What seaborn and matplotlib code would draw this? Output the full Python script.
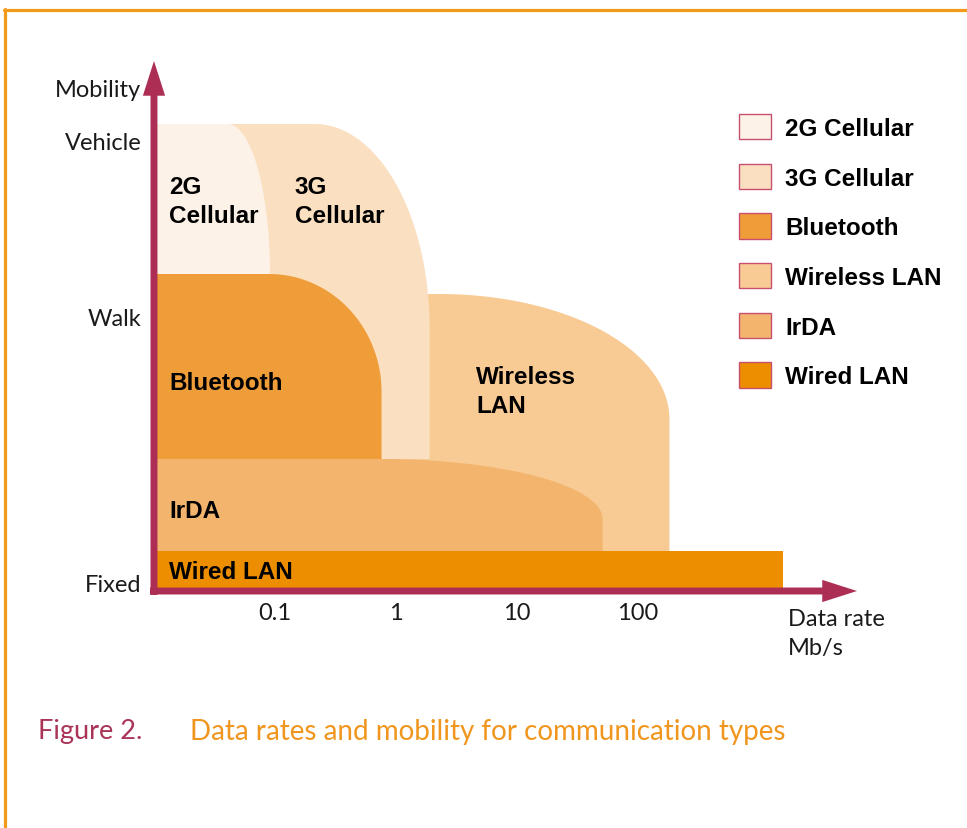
import numpy as np
import matplotlib
matplotlib.use("Agg")
import matplotlib.pyplot as plt
from matplotlib.patches import Polygon, Patch
from matplotlib.lines import Line2D
import seaborn as sns

# Technologies (legend order) and their coverage areas
techs = ["2G Cellular", "3G Cellular", "Bluetooth", "Wireless LAN", "IrDA", "Wired LAN"]
labels_in_plot = ["2G\nCellular", "3G\nCellular", "Bluetooth", "Wireless\nLAN", "IrDA", "Wired LAN"]
colors = ["#FDF2E7", "#FBDFC1", "#EF9D39", "#F8CA94", "#F3B46D", "#EC8E00"]

# max data rate in Mb/s reached by each technology (right edge)
rate_max = [0.091, 1.9, 0.76, 182, 51, 1585]
rate_min = 0.01
# mobility range (arbitrary scale: fixed=0 ... vehicle ~4.5)
mob_low = [3.17, 1.32, 1.32, 0.40, 0.40, 0.0]
mob_high = [4.67, 4.67, 3.17, 2.97, 1.32, 0.40]
# how rounded the top-right corner is (decades, mobility units)
corner_dx = [0.35, 0.95, 0.93, 1.9, 1.84, 0.0]
corner_dy = [1.5, 2.05, 1.18, 1.25, 0.6, 0.0]
draw_order = [3, 1, 0, 2, 4, 5]

mobility_ticks = [0.08, 2.74, 4.5]
mobility_labels = ["Fixed", "Walk", "Vehicle"]
rate_ticks = [0.1, 1, 10, 100]
rate_labels = ["0.1", "1", "10", "100"]

sns.set_style("white")
plt.rcParams["font.family"] = ["Lato", "DejaVu Sans"]

axis_col = "#AD2E55"
light = dict(family="Lato", weight="normal", size=17, color="#1a1a1a")
bold = dict(family="Liberation Sans", weight="bold", size=17.5, color="black")

fig = plt.figure(figsize=(9.67, 8.29), dpi=100)
W, H = 967, 829
ax_l, ax_r, ax_t, ax_b = 150, 860, 55, 600
ax = fig.add_axes([ax_l / W, (H - ax_b) / H, (ax_r - ax_l) / W, (ax_b - ax_t) / H])
ax.set_xscale("log")
ax.set_xlim(10 ** -2.033, 10 ** 3.835)
ax.set_ylim(-0.08, 5.37)


def region(x1, y0, y1, rx, ry):
    lx0, lx1 = np.log10(rate_min), np.log10(x1)
    pts = [(lx0, y0), (lx1, y0), (lx1, y1 - ry)]
    if rx > 0 and ry > 0:
        t = np.linspace(0, np.pi / 2, 60)
        cx, cy = lx1 - rx, y1 - ry
        pts += list(zip(cx + rx * np.cos(t), cy + ry * np.sin(t)))
    else:
        pts.append((lx1, y1))
    pts.append((lx0, y1))
    return [(10 ** a, b) for a, b in pts]


for i in draw_order:
    verts = region(rate_max[i], mob_low[i], mob_high[i], corner_dx[i], corner_dy[i])
    ax.add_patch(Polygon(verts, closed=True, facecolor=colors[i], edgecolor="none"))

# labels inside the areas
label_pos = [(0.0133, 3.90), (0.146, 3.90), (0.0133, 2.08), (4.58, 2.00), (0.0133, 0.81), (0.0133, 0.19)]
for txt, (x, y) in zip(labels_in_plot, label_pos):
    ax.text(x, y, txt, ha="left", va="center", linespacing=1.32, **bold)

# axes as arrows
arrow = dict(width=5, headwidth=16, headlength=25, shrink=0, color=axis_col, lw=0)
ax.annotate("", xy=(rate_min, 5.30), xytext=(rate_min, -0.04), arrowprops=arrow,
            annotation_clip=False)
ax.annotate("", xy=(10 ** 3.81, 0), xytext=(10 ** -2.033, 0), arrowprops=arrow,
            annotation_clip=False)

ax.set_xticks(rate_ticks)
ax.set_xticklabels(rate_labels)
ax.xaxis.set_minor_locator(matplotlib.ticker.NullLocator())
ax.set_yticks(mobility_ticks)
ax.set_yticklabels(mobility_labels)
ax.tick_params(axis="both", length=0)
ax.tick_params(axis="y", pad=6)
ax.tick_params(axis="x", pad=2.5)
for lab in ax.get_xticklabels() + ax.get_yticklabels():
    lab.set_fontfamily("Lato")
    lab.set_fontweight("normal")
    lab.set_fontsize(17)
    lab.set_color("#1a1a1a")
sns.despine(ax=ax, left=True, bottom=True)
ax.patch.set_alpha(0)

ax.text(-0.013, 5.02, "Mobility", transform=ax.get_yaxis_transform(), ha="right",
        va="center", **light)
ax.text((788 - ax_l) / (ax_r - ax_l), (ax_b - 634) / (ax_b - ax_t), "Data rate\nMb/s",
        transform=ax.transAxes, ha="left", va="center", linespacing=1.45, **light)

handles = [Patch(facecolor=c, edgecolor="#C8506F", linewidth=1) for c in colors]
ax.legend(handles, techs, loc="upper left", bbox_to_anchor=(739 / W, 1 - 115 / H),
          bbox_transform=fig.transFigure, frameon=False, borderpad=0, borderaxespad=0,
          handlelength=1.32, handleheight=1.23, handletextpad=0.58, labelspacing=0.98,
          labelcolor="black",
          prop=dict(family="Liberation Sans", weight="bold", size=17.5))

# caption
fig.text(38 / W, 1 - 732 / H, "Figure 2.", ha="left", va="center",
         family="Lato", weight="normal", size=19.5, color="#A93457")
fig.text(190 / W, 1 - 732 / H, "Data rates and mobility for communication types",
         ha="left", va="center", family="Lato", weight="normal", size=20, color="#F0961E")

# page frame
fig.add_artist(Line2D([4 / W, 1], [1 - 11 / H, 1 - 11 / H], color="#F39A1A", lw=2.3))
fig.add_artist(Line2D([5.3 / W, 5.3 / W], [0, 1 - 10 / H], color="#F39A1A", lw=2.3))

fig.savefig("out.png", dpi=100)
